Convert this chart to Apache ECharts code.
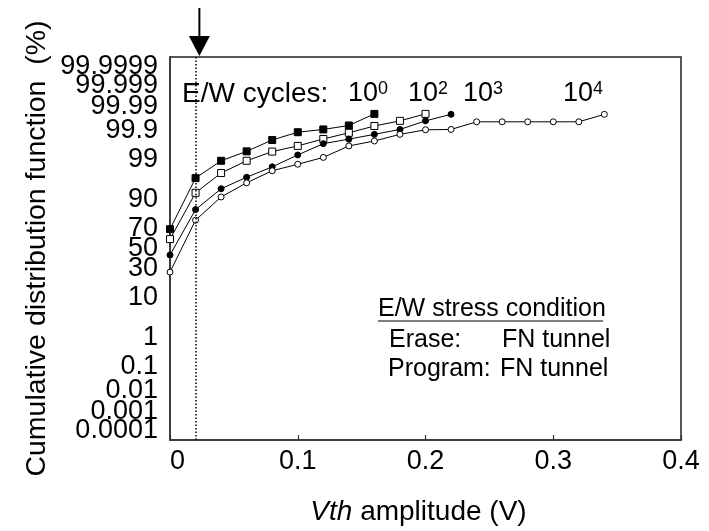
<!DOCTYPE html>
<html><head><meta charset="utf-8">
<script src="https://cdn.jsdelivr.net/npm/echarts@6/dist/echarts.min.js"></script>
<style>html,body{margin:0;padding:0;background:#fff}#c{width:709px;height:531px}</style>
</head><body><div id="c"></div>
<script>
// ---- data ----
const xValues = [0, 0.02, 0.04, 0.06, 0.08, 0.10, 0.12, 0.14, 0.16, 0.18, 0.20, 0.22, 0.24, 0.26, 0.28, 0.30, 0.32, 0.34];
const cdfCycles1e0 = [69.3, 96.7, 98.9, 99.44, 99.77, 99.88, 99.906, 99.934, 99.978];
const cdfCycles1e2 = [59.7, 92.7, 97.56, 98.9, 99.43, 99.63, 99.788, 99.874, 99.931, 99.957, 99.978];
const cdfCycles1e3 = [43.3, 84.5, 94.06, 96.86, 98.35, 99.27, 99.69, 99.785, 99.856, 99.906, 99.957, 99.977];
const cdfCycles1e4 = [26.9, 77.0, 91.07, 95.68, 97.88, 98.61, 99.13, 99.63, 99.75, 99.856, 99.903, 99.906, 99.953, 99.953, 99.953, 99.953, 99.953, 99.977];
const yTickLabels = ['0.0001','0.001','0.01','0.1','1','10','30','50','70','90','99','99.9','99.99','99.999','99.9999'];
const markerX = 0.023;
const FONT = "'Liberation Sans', Arial, Helvetica, sans-serif";

// inverse standard normal CDF (Acklam)
function probit(pct) {
  const p = pct / 100;
  const a = [-3.969683028665376e+01, 2.209460984245205e+02, -2.759285104469687e+02, 1.383577518672690e+02, -3.066479806614716e+01, 2.506628277459239e+00];
  const b = [-5.447609879822406e+01, 1.615858368580409e+02, -1.556989798598866e+02, 6.680131188771972e+01, -1.328068155288572e+01];
  const c = [-7.784894002430293e-03, -3.223964580411365e-01, -2.400758277161838e+00, -2.549732539343734e+00, 4.374664141464968e+00, 2.938163982698783e+00];
  const d = [7.784695709041462e-03, 3.224671290700398e-01, 2.445134137142996e+00, 3.754408661907416e+00];
  const plow = 0.02425, phigh = 1 - plow;
  let q, r;
  if (p < plow) {
    q = Math.sqrt(-2 * Math.log(p));
    return (((((c[0]*q+c[1])*q+c[2])*q+c[3])*q+c[4])*q+c[5]) / ((((d[0]*q+d[1])*q+d[2])*q+d[3])*q+1);
  } else if (p <= phigh) {
    q = p - 0.5; r = q*q;
    return (((((a[0]*r+a[1])*r+a[2])*r+a[3])*r+a[4])*r+a[5])*q / (((((b[0]*r+b[1])*r+b[2])*r+b[3])*r+b[4])*r+1);
  } else {
    q = Math.sqrt(-2 * Math.log(1 - p));
    return -(((((c[0]*q+c[1])*q+c[2])*q+c[3])*q+c[4])*q+c[5]) / ((((d[0]*q+d[1])*q+d[2])*q+d[3])*q+1);
  }
}
const toPts = vals => vals.map((v, i) => [xValues[i], probit(v)]);
const yTickValues = yTickLabels.map(s => probit(parseFloat(s)));

const chart = echarts.init(document.getElementById('c'));
const lineBase = { type: 'line', lineStyle: { color: '#000', width: 1 }, z: 3, animation: false };
chart.setOption({
  animation: false,
  backgroundColor: '#fff',
  grid: { left: 170, top: 57, right: 28, bottom: 88, show: true, borderColor: '#222', borderWidth: 1.5 },
  xAxis: {
    type: 'value', min: 0, max: 0.4, interval: 0.1,
    axisLine: { show: true, onZero: false, lineStyle: { color: '#333', width: 1.5 } },
    axisTick: { show: true, inside: true, length: 5, lineStyle: { color: '#333', width: 1.2 } },
    splitLine: { show: false },
    axisLabel: { fontSize: 27, color: '#000', fontFamily: FONT, margin: 8, alignMinLabel: 'left',
      formatter: v => String(Math.round(v * 10) / 10) },
    name: '{i|Vth} amplitude (V)', nameLocation: 'middle', nameGap: 58,
    nameTextStyle: { fontSize: 28, color: '#000', fontFamily: FONT, padding: [0, 14, 0, 0],
      rich: { i: { fontSize: 28, fontStyle: 'italic', color: '#000', fontFamily: FONT } } }
  },
  yAxis: {
    type: 'value', min: -5, max: 5,
    axisLine: { show: true, onZero: false, lineStyle: { color: '#333', width: 1.5 } },
    axisTick: { show: false },
    splitLine: { show: false },
    axisLabel: { show: false },
    name: 'Cumulative distribution function  (%)', nameLocation: 'middle', nameGap: 118, nameRotate: 90,
    nameTextStyle: { fontSize: 28.5, color: '#000', fontFamily: FONT }
  },
  series: [
    Object.assign({}, lineBase, { name: '10^0', data: toPts(cdfCycles1e0), symbol: 'rect', symbolSize: 7,
      itemStyle: { color: '#000', borderColor: '#000', borderWidth: 1 },
      markLine: { silent: true, symbol: ['none', 'none'], label: { show: false },
        lineStyle: { type: [1.5, 2], color: '#000', width: 1.5 }, data: [{ xAxis: markerX }] } }),
    Object.assign({}, lineBase, { name: '10^2', data: toPts(cdfCycles1e2), symbol: 'rect', symbolSize: 7,
      itemStyle: { color: '#fff', borderColor: '#000', borderWidth: 1 } }),
    Object.assign({}, lineBase, { name: '10^3', data: toPts(cdfCycles1e3), symbol: 'circle', symbolSize: 6,
      itemStyle: { color: '#000', borderColor: '#000', borderWidth: 1 } }),
    Object.assign({}, lineBase, { name: '10^4', data: toPts(cdfCycles1e4), symbol: 'circle', symbolSize: 6,
      itemStyle: { color: '#fff', borderColor: '#000', borderWidth: 1 } }),
    {
      // probability-scale tick labels placed through the axis scale
      type: 'scatter', name: 'yTicks', silent: true, clip: false, symbolSize: 0.1, z: 5,
      itemStyle: { color: '#000', opacity: 1 },
      data: yTickValues.map((z, i) => ({ value: [0, z], label: { formatter: yTickLabels[i] } })),
      label: { show: true, position: 'left', distance: 12, offset: [0, 2], fontSize: 27, color: '#000', opacity: 1,
        fontFamily: FONT, textBorderWidth: 0 },
      labelLayout: { hideOverlap: false }
    }
  ]
});

// annotations
const ax = chart.convertToPixel({ xAxisIndex: 0 }, markerX);
const topY = chart.convertToPixel({ yAxisIndex: 0 }, 5);
const txt = (x, y, text, size) => ({ type: 'text', x: x, y: y, z: 10,
  style: { text: text, fontSize: size, fontFamily: FONT, fill: '#000', verticalAlign: 'middle' } });
const sup = (x, y, p) => ({ type: 'text', x: x, y: y, z: 10,
  style: { text: '{b|10}{s|' + p + '}', fontFamily: FONT, fill: '#000', verticalAlign: 'middle',
    rich: { b: { fontSize: 27, fontFamily: FONT, fill: '#000' }, s: { fontSize: 18, fontFamily: FONT, fill: '#000', verticalAlign: 'top' } } } });
chart.setOption({
  graphic: [
    { type: 'line', shape: { x1: ax, y1: 8, x2: ax, y2: topY - 18 }, style: { stroke: '#000', lineWidth: 2 }, z: 10 },
    { type: 'polygon', shape: { points: [[ax - 10.5, topY - 21], [ax + 10.5, topY - 21], [ax, topY - 1]] }, style: { fill: '#000' }, z: 10 },
    txt(182, 94, 'E/W cycles:', 28),
    sup(348, 94, '0'), sup(408, 94, '2'), sup(463, 94, '3'), sup(563, 94, '4'),
    txt(378, 309, 'E/W stress condition', 25),
    { type: 'line', shape: { x1: 378, y1: 321, x2: 603, y2: 321 }, style: { stroke: '#000', lineWidth: 1.2 }, z: 10 },
    txt(389, 340, 'Erase:', 25),
    txt(502, 340, 'FN tunnel', 25),
    txt(388, 369, 'Program:', 25),
    txt(500, 369, 'FN tunnel', 25)
  ]
});
</script></body></html>
